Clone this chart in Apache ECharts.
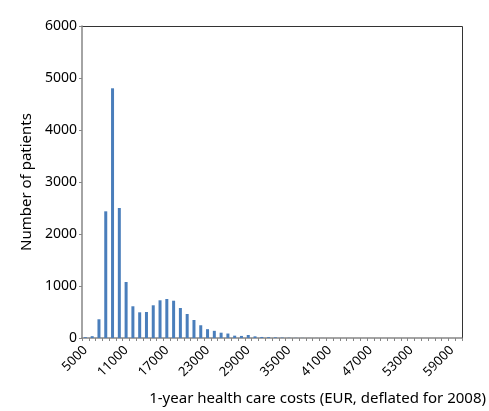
<!DOCTYPE html>
<html>
<head>
<meta charset="utf-8">
<script src="https://cdn.jsdelivr.net/npm/echarts@6/dist/echarts.min.js"></script>
<style>
  html, body { margin: 0; padding: 0; background: #fff; }
  #chart { width: 489px; height: 411px; }
</style>
</head>
<body>
<div id="chart"></div>
<script>
// Cost bins (EUR, 1000-wide) and patient counts per bin
const costBins = [];
for (let c = 5000; c <= 60000; c += 1000) costBins.push(String(c));

const patientCounts = [
  15, 35, 360, 2436, 4802, 2500, 1077, 610, 494, 500,
  629, 725, 750, 717, 577, 462, 346, 245, 170, 138,
  102, 86, 45, 40, 58, 32, 20, 16, 12, 8,
  5, 3, 2, 1, 1, 1, 0, 0, 0, 0,
  0, 0, 0, 0, 0, 0, 0, 0, 0, 0,
  0, 0, 0, 0, 0, 0
];

const yTicks = [0, 1000, 2000, 3000, 4000, 5000, 6000];

const font = '"Noto Sans", "Open Sans", sans-serif';
const chart = echarts.init(document.getElementById('chart'));

chart.setOption({
  animation: false,
  grid: { left: 82, right: 27, top: 26, bottom: 73, containLabel: false },
  xAxis: {
    type: 'category',
    data: costBins,
    boundaryGap: true,
    axisLine: { show: true, lineStyle: { color: '#868686', width: 1.5 } },
    axisTick: {
      show: true, interval: 0, length: 3,
      lineStyle: { color: '#868686' }
    },
    axisLabel: {
      interval: 5, rotate: 45, margin: 10,
      color: '#000', fontFamily: font, fontSize: 13
    },
    splitLine: { show: false }
  },
  yAxis: {
    type: 'value',
    min: yTicks[0],
    max: yTicks[yTicks.length - 1],
    interval: 1000,
    name: 'Number of patients',
    nameLocation: 'middle',
    nameGap: 46,
    nameTextStyle: { color: '#000', fontFamily: font, fontSize: 15 },
    axisLine: { show: true, lineStyle: { color: '#868686', width: 1.5 } },
    axisTick: { show: true, length: 3, lineStyle: { color: '#868686' } },
    axisLabel: {
      color: '#000', fontFamily: font, fontSize: 14, margin: 5,
      formatter: v => String(v)
    },
    splitLine: { show: false }
  },
  graphic: [
    // top and right frame of the plot area
    {
      type: 'polyline',
      shape: { points: [[82, 26.5], [462.5, 26.5], [462.5, 338]] },
      style: { stroke: '#333333', lineWidth: 1, fill: null },
      silent: true
    },
    {
      type: 'text',
      right: 3,
      top: 391,
      style: {
        text: '1-year health care costs (EUR, deflated for 2008)',
        fill: '#000',
        font: '15px ' + font
      }
    }
  ],
  series: [{
    type: 'bar',
    data: patientCounts,
    barWidth: 3,
    itemStyle: { color: '#4a7ebb' }
  }]
});
</script>
</body>
</html>
